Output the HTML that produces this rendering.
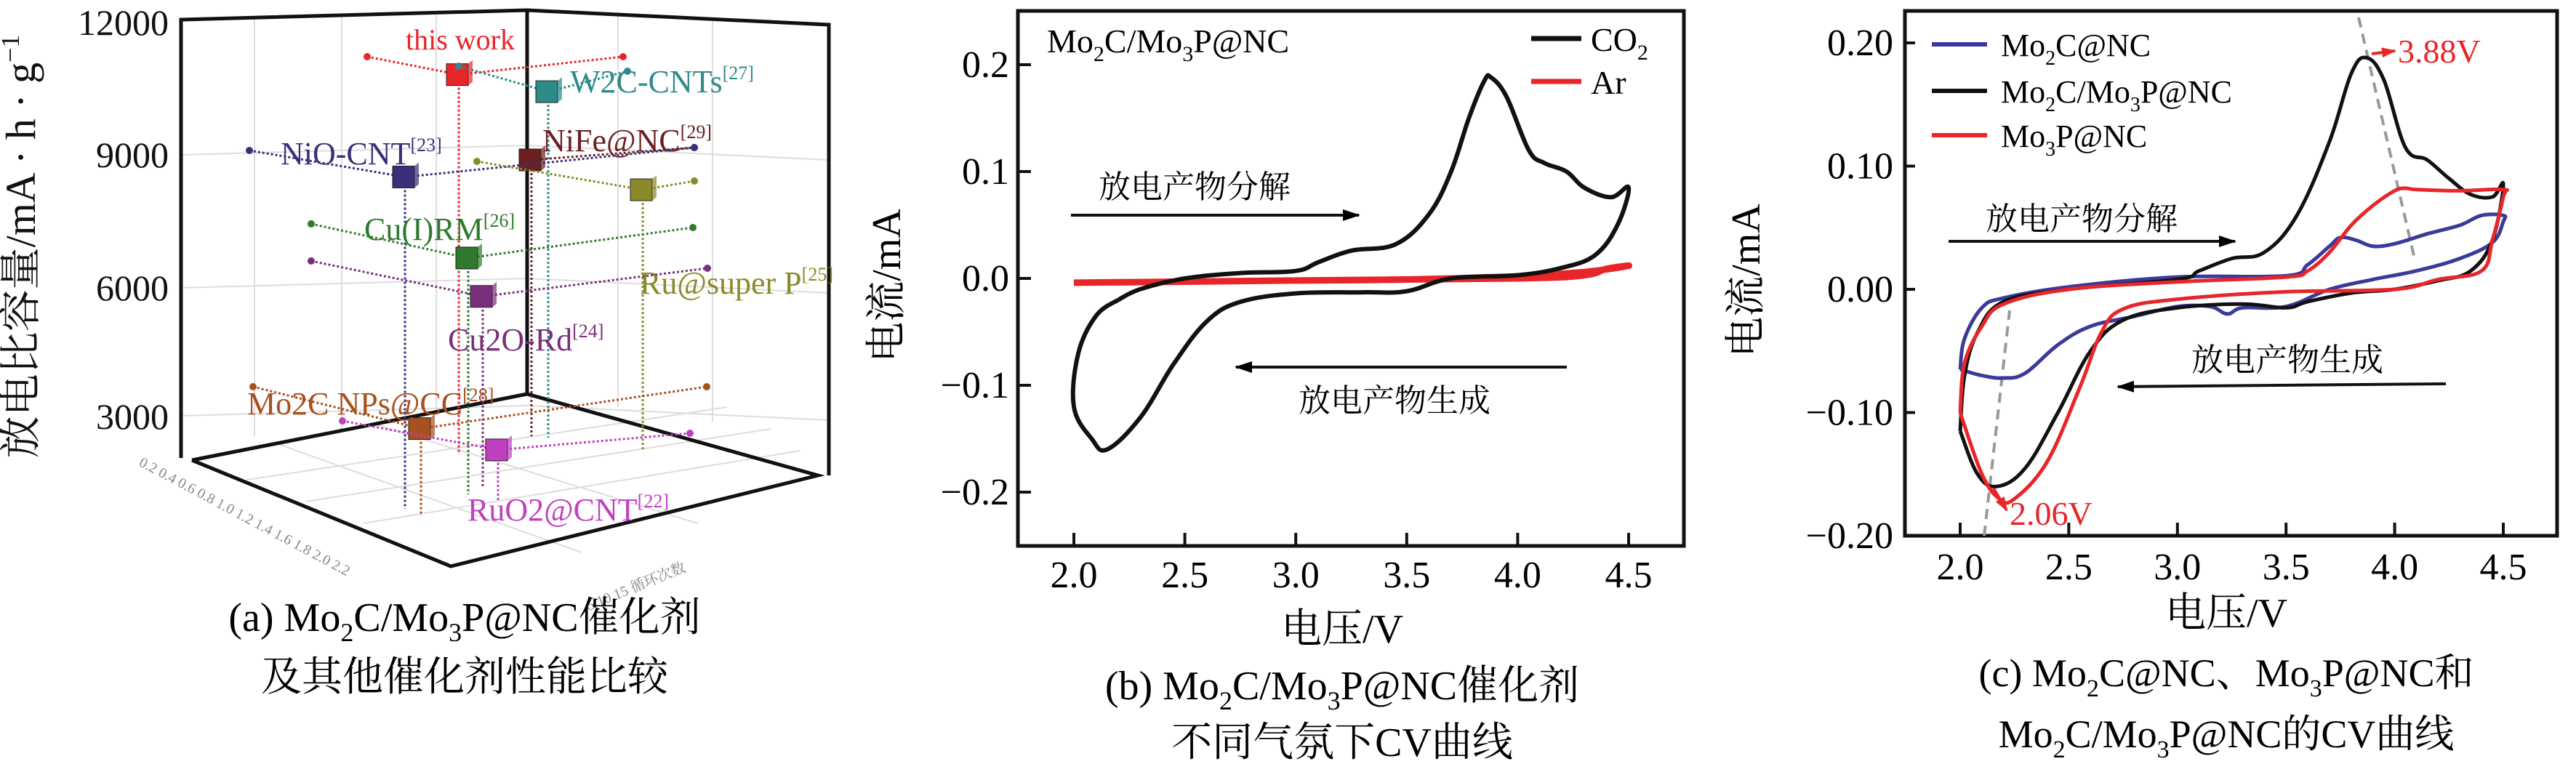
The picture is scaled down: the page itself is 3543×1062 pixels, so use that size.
<!DOCTYPE html>
<html><head><meta charset="utf-8"><style>
html,body{margin:0;padding:0;background:#fff}
svg{display:block;font-family:"Liberation Serif","Noto Serif CJK SC",serif}
text{font-family:"Liberation Serif","Noto Serif CJK SC",serif}
</style></head><body>
<svg id="fig" width="3543" height="1062" viewBox="0 0 3543 1062" xmlns="http://www.w3.org/2000/svg">
<defs>
<marker id="ah" markerWidth="24" markerHeight="16" refX="22" refY="8" orient="auto" markerUnits="userSpaceOnUse"><path d="M0,0 L24,8 L0,16 z" fill="#000"/></marker>
<marker id="ahr" markerWidth="20" markerHeight="14" refX="18" refY="7" orient="auto" markerUnits="userSpaceOnUse"><path d="M0,0 L20,7 L0,14 z" fill="#e8262a"/></marker>
</defs>
<!-- Panel A: 3D chart -->
<g id="panelA">
 <g stroke="#ddd" stroke-width="2" fill="none">
  <line x1="249" y1="213" x2="725" y2="200"/><line x1="725" y1="200" x2="1140" y2="220"/>
  <line x1="249" y1="396" x2="725" y2="383"/><line x1="725" y1="383" x2="1140" y2="403"/>
  <line x1="249" y1="572" x2="725" y2="558"/><line x1="725" y1="558" x2="1140" y2="578"/>
  <line x1="350" y1="27" x2="350" y2="600"/><line x1="470" y1="22" x2="470" y2="590"/><line x1="600" y1="18" x2="600" y2="570"/>
  <line x1="850" y1="20" x2="850" y2="560"/><line x1="980" y1="25" x2="980" y2="580"/>
  <line x1="340" y1="660" x2="1000" y2="560"/><line x1="420" y1="690" x2="1060" y2="590"/><line x1="500" y1="720" x2="1100" y2="620"/>
  <line x1="380" y1="610" x2="800" y2="760"/><line x1="520" y1="585" x2="960" y2="720"/>
 </g>
 <g stroke="#111" stroke-width="5" fill="none">
  <polyline points="249,630 249,27 725,14 1140,34 1140,654"/>
  <line x1="725" y1="14" x2="725" y2="542"/>
  <polyline points="264,633 620,779 1125,654 725,542 264,633"/>
 </g>
 <g font-size="50" text-anchor="end" fill="#111">
  <text x="232" y="48">12000</text><text x="232" y="230">9000</text><text x="232" y="413">6000</text><text x="232" y="590">3000</text>
 </g>
 <text transform="translate(48,339) rotate(-90)" font-size="58" text-anchor="middle" fill="#111">放电比容量/mA · h · g<tspan font-size="36" dy="-22">−1</tspan></text>
 <g font-size="20" fill="#888">
  <text transform="translate(190,640) rotate(28)">0.2 0.4 0.6 0.8 1.0 1.2 1.4 1.6 1.8 2.0 2.2</text>
  <text transform="translate(810,840) rotate(-22)">5   10   15   循环次数</text>
 </g>
 <g id="a-series"></g>
 <text x="639" y="868" font-size="56" text-anchor="middle">(a) Mo<tspan font-size="36" dy="14">2</tspan><tspan dy="-14">C/Mo</tspan><tspan font-size="36" dy="14">3</tspan><tspan dy="-14">P@NC催化剂</tspan></text>
 <text x="639" y="950" font-size="56" text-anchor="middle">及其他催化剂性能比较</text>
</g>

<!-- Panel B -->
<g id="panelB">
 <rect x="1400" y="15" width="916" height="736" fill="none" stroke="#111" stroke-width="5"/>
 <g id="b-ticks"></g>
 <g id="b-series"></g>
 <text x="1440" y="72" font-size="46">Mo<tspan font-size="30" dy="12">2</tspan><tspan dy="-12">C/Mo</tspan><tspan font-size="30" dy="12">3</tspan><tspan dy="-12">P@NC</tspan></text>
 <line x1="2106" y1="53" x2="2175" y2="53" stroke="#111" stroke-width="7"/>
 <text x="2188" y="70" font-size="46">CO<tspan font-size="30" dy="12">2</tspan></text>
 <line x1="2106" y1="112" x2="2175" y2="112" stroke="#e8262a" stroke-width="7"/>
 <text x="2188" y="129" font-size="46">Ar</text>
 <text x="1643" y="272" font-size="44" text-anchor="middle">放电产物分解</text>
 <line x1="1473" y1="296" x2="1869" y2="296" stroke="#111" stroke-width="4" marker-end="url(#ah)"/>
 <text x="1918" y="566" font-size="44" text-anchor="middle">放电产物生成</text>
 <line x1="2155" y1="505" x2="1700" y2="505" stroke="#111" stroke-width="4" marker-end="url(#ah)"/>
 <text transform="translate(1238,393) rotate(-90)" font-size="56" text-anchor="middle">电流/mA</text>
 <text x="1846" y="884" font-size="56" text-anchor="middle">电压/V</text>
 <text x="1846" y="962" font-size="56" text-anchor="middle">(b) Mo<tspan font-size="36" dy="14">2</tspan><tspan dy="-14">C/Mo</tspan><tspan font-size="36" dy="14">3</tspan><tspan dy="-14">P@NC催化剂</tspan></text>
 <text x="1846" y="1040" font-size="56" text-anchor="middle">不同气氛下CV曲线</text>
</g>

<!-- Panel C -->
<g id="panelC">
 <rect x="2620" y="15" width="897" height="722" fill="none" stroke="#111" stroke-width="5"/>
 <g id="c-ticks"></g>
 <line x1="2729" y1="737" x2="2764" y2="427" stroke="#999" stroke-width="4" stroke-dasharray="14,9"/>
 <line x1="3244" y1="24" x2="3321" y2="356" stroke="#999" stroke-width="4" stroke-dasharray="14,9"/>
 <g id="c-series"></g>
 <line x1="3262" y1="74" x2="3294" y2="70" stroke="#e8262a" stroke-width="4" marker-end="url(#ahr)"/>
 <text x="3298" y="86" font-size="46" fill="#e8262a">3.88V</text>
 <line x1="2742" y1="672" x2="2760" y2="702" stroke="#e8262a" stroke-width="4" marker-end="url(#ahr)"/>
 <text x="2764" y="722" font-size="46" fill="#e8262a">2.06V</text>
 <line x1="2657" y1="61" x2="2733" y2="61" stroke="#3a3a9a" stroke-width="6"/>
 <text x="2752" y="77" font-size="44">Mo<tspan font-size="28" dy="12">2</tspan><tspan dy="-12">C@NC</tspan></text>
 <line x1="2657" y1="125" x2="2733" y2="125" stroke="#111" stroke-width="6"/>
 <text x="2752" y="141" font-size="44">Mo<tspan font-size="28" dy="12">2</tspan><tspan dy="-12">C/Mo</tspan><tspan font-size="28" dy="12">3</tspan><tspan dy="-12">P@NC</tspan></text>
 <line x1="2657" y1="186" x2="2733" y2="186" stroke="#e8262a" stroke-width="6"/>
 <text x="2752" y="202" font-size="44">Mo<tspan font-size="28" dy="12">3</tspan><tspan dy="-12">P@NC</tspan></text>
 <text x="2863" y="316" font-size="44" text-anchor="middle">放电产物分解</text>
 <line x1="2680" y1="332" x2="3074" y2="332" stroke="#111" stroke-width="4" marker-end="url(#ah)"/>
 <text x="3146" y="510" font-size="44" text-anchor="middle">放电产物生成</text>
 <line x1="3364" y1="528" x2="2913" y2="532" stroke="#111" stroke-width="4" marker-end="url(#ah)"/>
 <text transform="translate(2420,386) rotate(-90)" font-size="56" text-anchor="middle">电流/mA</text>
 <text x="3062" y="862" font-size="56" text-anchor="middle">电压/V</text>
 <text x="3062" y="944" font-size="54" text-anchor="middle">(c) Mo<tspan font-size="34" dy="14">2</tspan><tspan dy="-14">C@NC、Mo</tspan><tspan font-size="34" dy="14">3</tspan><tspan dy="-14">P@NC和</tspan></text>
 <text x="3062" y="1028" font-size="54" text-anchor="middle">Mo<tspan font-size="34" dy="14">2</tspan><tspan dy="-14">C/Mo</tspan><tspan font-size="34" dy="14">3</tspan><tspan dy="-14">P@NC的CV曲线</tspan></text>
</g>
</svg>
<script>
// ---------- data ----------
const xTicks = [2.0, 2.5, 3.0, 3.5, 4.0, 4.5];
const xTickLabels = ["2.0","2.5","3.0","3.5","4.0","4.5"];
const bYTicks = [0.2, 0.1, 0.0, -0.1, -0.2];
const bYTickLabels = ["0.2","0.1","0.0","−0.1","−0.2"];
const cYTicks = [0.2, 0.1, 0.0, -0.1, -0.2];
const cYTickLabels = ["0.20","0.10","0.00","−0.10","−0.20"];
const bCO2V = [2.2,2.3,2.5,2.75,3.0,3.1,3.25,3.45,3.6,3.7,3.78,3.85,3.88,3.95,4.05,4.12,4.22,4.3,4.42,4.5,4.45,4.35,4.2,4.0,3.7,3.5,3.3,3.0,2.75,2.6,2.45,2.3,2.15,2.08,2.0,2.02,2.1,2.2];
const bCO2I = [-0.02,-0.01,0.0,0.005,0.007,0.015,0.026,0.032,0.06,0.1,0.15,0.185,0.188,0.17,0.12,0.108,0.1,0.085,0.076,0.085,0.05,0.022,0.01,0.003,0.0,-0.012,-0.013,-0.014,-0.022,-0.04,-0.08,-0.13,-0.16,-0.15,-0.12,-0.07,-0.035,-0.02];
const bArV = [2.0,2.5,3.0,3.5,4.0,4.3,4.45,4.5,4.4,4.3,4.0,3.0,2.0];
const bArI = [-0.004,-0.003,-0.002,-0.001,0.002,0.006,0.01,0.012,0.009,0.003,0.0,-0.002,-0.004];
const cBlackV = [2.0,2.02,2.08,2.2,2.5,3.0,3.1,3.25,3.4,3.55,3.7,3.8,3.87,3.95,4.05,4.15,4.25,4.35,4.45,4.5,4.45,4.35,4.2,4.0,3.8,3.6,3.5,3.3,3.0,2.75,2.6,2.45,2.3,2.17,2.08,2.0];
const cBlackI = [-0.115,-0.07,-0.035,-0.01,0.0,0.008,0.015,0.025,0.03,0.06,0.12,0.175,0.188,0.17,0.115,0.105,0.09,0.077,0.075,0.085,0.04,0.015,0.007,0.0,-0.003,-0.01,-0.015,-0.012,-0.015,-0.025,-0.05,-0.1,-0.145,-0.16,-0.15,-0.115];
const cRedV = [2.0,2.02,2.1,2.2,2.5,3.0,3.5,3.6,3.7,3.8,3.9,4.0,4.05,4.1,4.3,4.5,4.5,4.45,4.4,4.2,4.0,3.5,3.0,2.75,2.65,2.55,2.4,2.25,2.18,2.1,2.0];
const cRedI = [-0.1,-0.06,-0.03,-0.012,0.0,0.006,0.01,0.015,0.03,0.052,0.068,0.08,0.082,0.081,0.08,0.081,0.075,0.04,0.015,0.008,0.0,-0.002,-0.008,-0.016,-0.035,-0.08,-0.14,-0.17,-0.17,-0.15,-0.1];
const cBlueV = [2.0,2.02,2.1,2.2,2.5,3.0,3.5,3.6,3.7,3.75,3.82,3.9,4.0,4.15,4.3,4.4,4.5,4.5,4.45,4.3,4.1,3.9,3.7,3.5,3.3,3.23,3.15,3.0,2.8,2.6,2.45,2.3,2.2,2.1,2.0];
const cBlueI = [-0.065,-0.04,-0.015,-0.007,0.002,0.01,0.011,0.02,0.035,0.042,0.04,0.035,0.037,0.045,0.052,0.06,0.06,0.055,0.038,0.025,0.015,0.008,0.0,-0.014,-0.015,-0.02,-0.014,-0.014,-0.022,-0.03,-0.045,-0.068,-0.072,-0.07,-0.065];
const aNames = ["this work","W2C-CNTs","NiFe@NC","NiO-CNT","Ru@super P","Cu(I)RM","Cu2O-Rd","Mo2C NPs@CC","RuO2@CNT"];
const aRefs = ["","[27]","[29]","[23]","[25]","[26]","[24]","[28]","[22]"];
const aCapacity = [11000,10600,9000,8600,8300,6700,5800,2700,2200];
</script>
<script>
const NS="http://www.w3.org/2000/svg";
function mk(tag, attrs, parent){const e=document.createElementNS(NS,tag);for(const k in attrs)e.setAttribute(k,attrs[k]);parent.appendChild(e);return e;}
function axisFns(x0,x1,v0,v1,yZero,yPer){return {X:v=>x0+(v-v0)/(v1-v0)*(x1-x0),Y:i=>yZero-i*yPer};}
const B=axisFns(1477,2240,2.0,4.5,383,1470);
const C=axisFns(2696,3443,2.0,4.5,398,1695);
function ticks(g,ax,yT,yL,frameBottom,labelRight,xLabY){
  xTicks.forEach((v,k)=>{
    const l=mk('line',{x1:ax.X(v),x2:ax.X(v),y1:frameBottom,y2:frameBottom-18,stroke:'#111','stroke-width':4},g);
    
    
    const t=mk('text',{x:ax.X(v),y:xLabY,'font-size':52,'text-anchor':'middle'},g);t.textContent=xTickLabels[k];
    
    
  });
  yT.forEach((v,k)=>{
    const l=mk('line',{x1:labelRight+14,x2:labelRight+30,y1:ax.Y(v),y2:ax.Y(v),stroke:'#111','stroke-width':4},g);
    
    
    const t=mk('text',{x:labelRight,y:ax.Y(v)+17,'font-size':52,'text-anchor':'end'},g);t.textContent=yL[k];
    
    
  });
}
ticks(document.getElementById('b-ticks'),B,bYTicks,bYTickLabels,751,1388,808);
ticks(document.getElementById('c-ticks'),C,cYTicks,cYTickLabels,737,2604,797);
function smoothPath(P){
  let d='M'+P[0][0].toFixed(1)+','+P[0][1].toFixed(1);
  for(let i=0;i<P.length-1;i++){
    const p0=P[Math.max(0,i-1)],p1=P[i],p2=P[i+1],p3=P[Math.min(P.length-1,i+2)];
    const t=0.18;
    const c1=[p1[0]+(p2[0]-p0[0])*t,p1[1]+(p2[1]-p0[1])*t];
    const c2=[p2[0]-(p3[0]-p1[0])*t,p2[1]-(p3[1]-p1[1])*t];
    d+=` C${c1[0].toFixed(1)},${c1[1].toFixed(1)} ${c2[0].toFixed(1)},${c2[1].toFixed(1)} ${p2[0].toFixed(1)},${p2[1].toFixed(1)}`;
  }
  return d;
}
function curve(g,ax,V,I,color,w,name){
  const P=V.map((v,k)=>[ax.X(v),ax.Y(I[k])]);
  const p=mk('path',{d:smoothPath(P),fill:'none',stroke:color,'stroke-width':w,'stroke-linejoin':'round'},g);
  
  
}
const gb=document.getElementById('b-series');
curve(gb,B,bArV,bArI,'#e8262a',9,'series-ar');
curve(gb,B,bCO2V,bCO2I,'#111',6,'series-co2');
const gc=document.getElementById('c-series');
curve(gc,C,cBlueV,cBlueI,'#3a3a9a',5,'series-mo2c-nc');
curve(gc,C,cBlackV,cBlackI,'#111',5,'series-mo2c-mo3p-nc');
curve(gc,C,cRedV,cRedI,'#e8262a',5,'series-mo3p-nc');

// 3D panel
const aColors=["#e8262a","#2f8a8a","#6b1f1f","#3a2f7a","#8a8a2a","#2f7a2f","#7a2f7a","#a8501f","#c040c0"];
const aCubeX=[631,754,731,557,884,644,664,579,685];
const aLineL=[[505,78],[631,91],[731,215],[343,207],[656,222],[428,308],[428,359],[348,532],[471,579]];
const aLineR=[[857,78],[863,98],[955,203],[955,203],[955,249],[953,313],[973,369],[972,532],[949,596]];
const aFloorY=[625,602,600,700,620,680,670,710,690];
const aLabelPos=[[558,68],[784,127],[746,208],[386,226],[880,404],[501,330],[616,482],[340,570],[643,716]];
const Zy=c=>572-(c-3000)/3000*176;
const ga=document.getElementById('a-series');
aNames.forEach((n,k)=>{
  const cx=aCubeX[k], cy=Zy(aCapacity[k]), col=aColors[k];
  const g=mk('g',{},ga);
  
  
  mk('polyline',{points:`${aLineL[k][0]},${aLineL[k][1]} ${cx},${cy} ${aLineR[k][0]},${aLineR[k][1]}`,fill:'none',stroke:col,'stroke-width':3,'stroke-dasharray':'3,3'},g);
  mk('line',{x1:cx,y1:cy,x2:cx,y2:aFloorY[k],stroke:col,'stroke-width':3,'stroke-dasharray':'3,3'},g);
  mk('circle',{cx:aLineL[k][0],cy:aLineL[k][1],r:5,fill:col},g);
  mk('circle',{cx:aLineR[k][0],cy:aLineR[k][1],r:5,fill:col},g);
  mk('rect',{x:cx-17,y:cy-15,width:30,height:30,fill:col,stroke:'#222','stroke-width':1},g);
  mk('polygon',{points:`${cx+13},${cy-15} ${cx+19},${cy-20} ${cx+19},${cy+10} ${cx+13},${cy+15}`,fill:col,opacity:0.7},g);
  const t=mk('text',{x:aLabelPos[k][0],y:aLabelPos[k][1],'font-size':k===0?40:44,fill:col},g);
  t.textContent=n;
  if(aRefs[k]){const s=mk('tspan',{'font-size':26,dy:-18},t);s.textContent=aRefs[k];}
});
</script>
</body></html>
